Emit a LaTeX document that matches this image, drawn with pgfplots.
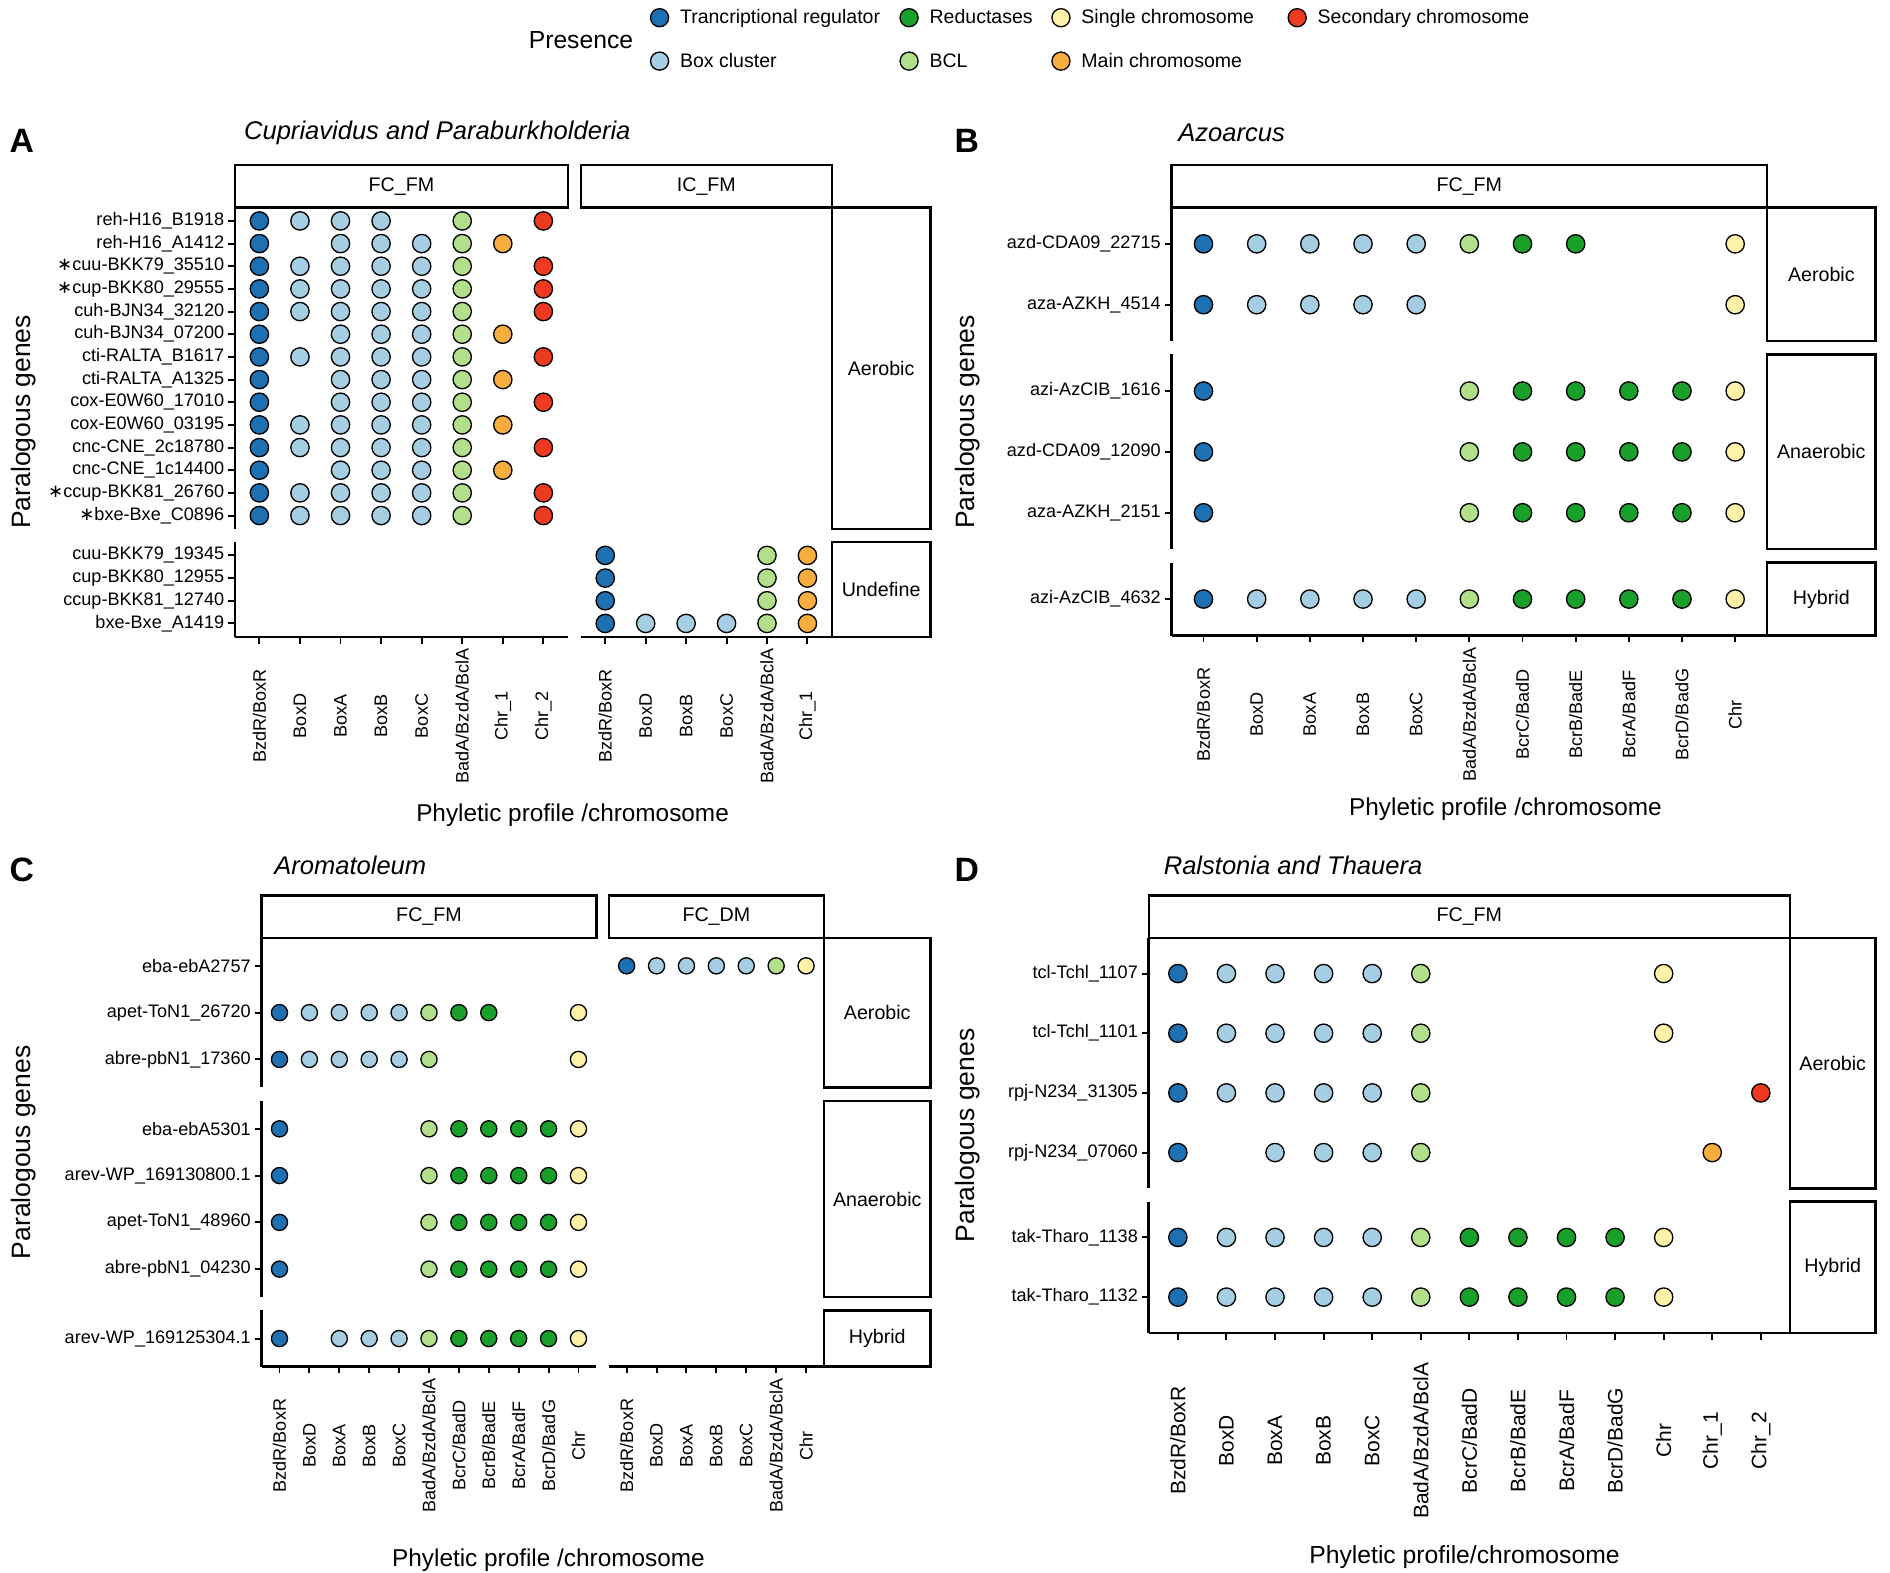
\documentclass[border=0pt]{standalone}
\usepackage{pgfplots}
\pgfplotsset{compat=1.18}
\usepackage{fontspec}
\setmainfont{Liberation Sans}
\newfontfamily\djfont{DejaVu Sans}

\definecolor{cTR}{HTML}{1D70B2}
\definecolor{cBX}{HTML}{A6CEE3}
\definecolor{cRD}{HTML}{19A02A}
\definecolor{cBL}{HTML}{B2DF8A}
\definecolor{cSC}{HTML}{FFF1A8}
\definecolor{cMC}{HTML}{F8AD3F}
\definecolor{cSD}{HTML}{EE3A21}

\newcommand{\gfont}{\fontsize{15}{17}\selectfont}
\newcommand{\tfont}{\fontsize{15}{17}\selectfont}
\newcommand{\sfont}{\fontsize{16.3}{18}\selectfont}
\newcommand{\st}{{\djfont ∗}}

\pgfplotsset{
  cell/.style={scale only axis, clip=false,
    axis line style={line width=2.2pt},
    tick style={line width=1.6pt, black},
    major tick length=5.5pt, tick align=outside,
    yticklabel style={font=\gfont},
    xticklabel style={font=\tfont, rotate=90, anchor=center},
    xticklabel shift=60pt},
  yonly/.style={axis y line*=left, axis x line=none, xtick=\empty},
  xonly/.style={axis x line*=bottom, axis y line=none, ytick=\empty},
  both/.style={axis x line*=bottom, axis y line*=left},
  dots/.style={scatter, only marks, scatter src=explicit symbolic,
    mark size=#1, mark options={line width=1.1pt},
    scatter/classes={
      tr={mark=*, draw=black, fill=cTR},
      bx={mark=*, draw=black, fill=cBX},
      rd={mark=*, draw=black, fill=cRD},
      bl={mark=*, draw=black, fill=cBL},
      sc={mark=*, draw=black, fill=cSC},
      mc={mark=*, draw=black, fill=cMC},
      sd={mark=*, draw=black, fill=cSD}}},
  dots/.default=7.6pt,
  lg/.style={only marks, mark=*, mark size=7.5pt,
    mark options={draw=black, line width=1.1pt, fill=#1}},
}

\begin{document}
\begin{tikzpicture}
\path[use as bounding box] (0pt,0pt) rectangle (1568pt,-1305pt);

% legend
\begin{axis}[hide axis, scale only axis, width=10pt, height=10pt,
  xmin=0, xmax=1, ymin=0, ymax=1,
  at={(539.5pt,-7pt)}, anchor=north west,
  legend columns=4, legend cell align=left,
  legend style={at={(0,1)}, anchor=north west, draw=none, fill=none,
    inner sep=0pt, font=\fontsize{16.2}{18}\selectfont, row sep=21pt,
    nodes={inner sep=0pt},
    /tikz/every odd column/.append style={column sep=9.5pt}}]
\addlegendimage{lg=cTR}\addlegendentry{\makebox[182.5pt][l]{Trancriptional regulator}}
\addlegendimage{lg=cRD}\addlegendentry{\makebox[101.5pt][l]{Reductases}}
\addlegendimage{lg=cSC}\addlegendentry{\makebox[171.5pt][l]{Single chromosome}}
\addlegendimage{lg=cSD}\addlegendentry{Secondary chromosome}
\addlegendimage{lg=cBX}\addlegendentry{Box cluster}
\addlegendimage{lg=cBL}\addlegendentry{BCL}
\addlegendimage{lg=cMC}\addlegendentry{Main chromosome}
\end{axis}

% ---------------- panel A ----------------
\begin{axis}[cell, yonly, at={(195pt,-172pt)}, anchor=north west,
  width=276pt, height=267pt, xmin=-0.6, xmax=7.6, ymin=-13.6, ymax=0.6,
  ytick={0,-1,...,-13},
  yticklabels={reh-H16\_B1918, reh-H16\_A1412, \st cuu-BKK79\_35510, \st cup-BKK80\_29555,
    cuh-BJN34\_32120, cuh-BJN34\_07200, cti-RALTA\_B1617, cti-RALTA\_A1325,
    cox-E0W60\_17010, cox-E0W60\_03195, cnc-CNE\_2c18780, cnc-CNE\_1c14400,
    \st ccup-BKK81\_26760, \st bxe-Bxe\_C0896}]
\addplot[dots] table[row sep=crcr, meta=c]{
x y c\\
0 0 tr\\ 1 0 bx\\ 2 0 bx\\ 3 0 bx\\ 5 0 bl\\ 7 0 sd\\
0 -1 tr\\ 2 -1 bx\\ 3 -1 bx\\ 4 -1 bx\\ 5 -1 bl\\ 6 -1 mc\\
0 -2 tr\\ 1 -2 bx\\ 2 -2 bx\\ 3 -2 bx\\ 4 -2 bx\\ 5 -2 bl\\ 7 -2 sd\\
0 -3 tr\\ 1 -3 bx\\ 2 -3 bx\\ 3 -3 bx\\ 4 -3 bx\\ 5 -3 bl\\ 7 -3 sd\\
0 -4 tr\\ 1 -4 bx\\ 2 -4 bx\\ 3 -4 bx\\ 4 -4 bx\\ 5 -4 bl\\ 7 -4 sd\\
0 -5 tr\\ 2 -5 bx\\ 3 -5 bx\\ 4 -5 bx\\ 5 -5 bl\\ 6 -5 mc\\
0 -6 tr\\ 1 -6 bx\\ 2 -6 bx\\ 3 -6 bx\\ 4 -6 bx\\ 5 -6 bl\\ 7 -6 sd\\
0 -7 tr\\ 2 -7 bx\\ 3 -7 bx\\ 4 -7 bx\\ 5 -7 bl\\ 6 -7 mc\\
0 -8 tr\\ 2 -8 bx\\ 3 -8 bx\\ 4 -8 bx\\ 5 -8 bl\\ 7 -8 sd\\
0 -9 tr\\ 1 -9 bx\\ 2 -9 bx\\ 3 -9 bx\\ 4 -9 bx\\ 5 -9 bl\\ 6 -9 mc\\
0 -10 tr\\ 1 -10 bx\\ 2 -10 bx\\ 3 -10 bx\\ 4 -10 bx\\ 5 -10 bl\\ 7 -10 sd\\
0 -11 tr\\ 2 -11 bx\\ 3 -11 bx\\ 4 -11 bx\\ 5 -11 bl\\ 6 -11 mc\\
0 -12 tr\\ 1 -12 bx\\ 2 -12 bx\\ 3 -12 bx\\ 4 -12 bx\\ 5 -12 bl\\ 7 -12 sd\\
0 -13 tr\\ 1 -13 bx\\ 2 -13 bx\\ 3 -13 bx\\ 4 -13 bx\\ 5 -13 bl\\ 7 -13 sd\\
};
\end{axis}

\begin{axis}[cell, both, at={(195pt,-449.5pt)}, anchor=north west,
  width=276pt, height=79pt, xmin=-0.6, xmax=7.6, ymin=-3.6, ymax=0.6,
  ytick={0,-1,...,-3},
  yticklabels={cuu-BKK79\_19345, cup-BKK80\_12955, ccup-BKK81\_12740, bxe-Bxe\_A1419},
  xtick={0,...,7},
  xticklabels={BzdR/BoxR, BoxD, BoxA, BoxB, BoxC, BadA/BzdA/BclA, Chr\_1, Chr\_2}]
\end{axis}

\begin{axis}[cell, xonly, at={(482pt,-449.5pt)}, anchor=north west,
  width=208pt, height=79pt, xmin=-0.6, xmax=5.6, ymin=-3.6, ymax=0.6,
  xtick={0,...,5},
  xticklabels={BzdR/BoxR, BoxD, BoxB, BoxC, BadA/BzdA/BclA, Chr\_1}]
\addplot[dots] table[row sep=crcr, meta=c]{
x y c\\
0 0 tr\\ 4 0 bl\\ 5 0 mc\\
0 -1 tr\\ 4 -1 bl\\ 5 -1 mc\\
0 -2 tr\\ 4 -2 bl\\ 5 -2 mc\\
0 -3 tr\\ 1 -3 bx\\ 2 -3 bx\\ 3 -3 bx\\ 4 -3 bl\\ 5 -3 mc\\
};
\end{axis}

% ---------------- panel B ----------------
\begin{axis}[cell, yonly, at={(972pt,-172pt)}, anchor=north west,
  width=494pt, height=111.1pt, xmin=-0.6, xmax=10.6, ymin=-1.6, ymax=0.6,
  ytick={0,-1}, yticklabels={azd-CDA09\_22715, aza-AZKH\_4514}]
\addplot[dots] table[row sep=crcr, meta=c]{
x y c\\
0 0 tr\\ 1 0 bx\\ 2 0 bx\\ 3 0 bx\\ 4 0 bx\\ 5 0 bl\\ 6 0 rd\\ 7 0 rd\\ 10 0 sc\\
0 -1 tr\\ 1 -1 bx\\ 2 -1 bx\\ 3 -1 bx\\ 4 -1 bx\\ 10 -1 sc\\
};
\end{axis}

\begin{axis}[cell, yonly, at={(972pt,-294.1pt)}, anchor=north west,
  width=494pt, height=161.6pt, xmin=-0.6, xmax=10.6, ymin=-2.6, ymax=0.6,
  ytick={0,-1,-2}, yticklabels={azi-AzCIB\_1616, azd-CDA09\_12090, aza-AZKH\_2151}]
\addplot[dots] table[row sep=crcr, meta=c]{
x y c\\
0 0 tr\\ 5 0 bl\\ 6 0 rd\\ 7 0 rd\\ 8 0 rd\\ 9 0 rd\\ 10 0 sc\\
0 -1 tr\\ 5 -1 bl\\ 6 -1 rd\\ 7 -1 rd\\ 8 -1 rd\\ 9 -1 rd\\ 10 -1 sc\\
0 -2 tr\\ 5 -2 bl\\ 6 -2 rd\\ 7 -2 rd\\ 8 -2 rd\\ 9 -2 rd\\ 10 -2 sc\\
};
\end{axis}

\begin{axis}[cell, both, at={(972pt,-466.7pt)}, anchor=north west,
  width=494pt, height=60.6pt, xmin=-0.6, xmax=10.6, ymin=-0.6, ymax=0.6,
  ytick={0}, yticklabels={azi-AzCIB\_4632},
  xtick={0,...,10},
  xticklabels={BzdR/BoxR, BoxD, BoxA, BoxB, BoxC, BadA/BzdA/BclA,
    BcrC/BadD, BcrB/BadE, BcrA/BadF, BcrD/BadG, Chr}]
\addplot[dots] table[row sep=crcr, meta=c]{
x y c\\
0 0 tr\\ 1 0 bx\\ 2 0 bx\\ 3 0 bx\\ 4 0 bx\\ 5 0 bl\\ 6 0 rd\\ 7 0 rd\\ 8 0 rd\\ 9 0 rd\\ 10 0 sc\\
};
\end{axis}

% ---------------- panel C ----------------
\begin{axis}[cell, yonly, at={(217pt,-778pt)}, anchor=north west,
  width=277.8pt, height=124.2pt, xmin=-0.6, xmax=10.6, ymin=-2.6, ymax=0.6,
  ytick={0,-1,-2}, yticklabels={eba-ebA2757, apet-ToN1\_26720, abre-pbN1\_17360}]
\addplot[dots=6.7pt] table[row sep=crcr, meta=c]{
x y c\\
0 -1 tr\\ 1 -1 bx\\ 2 -1 bx\\ 3 -1 bx\\ 4 -1 bx\\ 5 -1 bl\\ 6 -1 rd\\ 7 -1 rd\\ 10 -1 sc\\
0 -2 tr\\ 1 -2 bx\\ 2 -2 bx\\ 3 -2 bx\\ 4 -2 bx\\ 5 -2 bl\\ 10 -2 sc\\
};
\end{axis}

\begin{axis}[cell, hide axis, at={(505pt,-778pt)}, anchor=north west,
  width=178.6pt, height=124.2pt, xmin=-0.6, xmax=6.6, ymin=-2.6, ymax=0.6]
\addplot[dots=6.7pt] table[row sep=crcr, meta=c]{
x y c\\
0 0 tr\\ 1 0 bx\\ 2 0 bx\\ 3 0 bx\\ 4 0 bx\\ 5 0 bl\\ 6 0 sc\\
};
\end{axis}

\begin{axis}[cell, yonly, at={(217pt,-913.2pt)}, anchor=north west,
  width=277.8pt, height=163pt, xmin=-0.6, xmax=10.6, ymin=-3.6, ymax=0.6,
  ytick={0,-1,...,-3},
  yticklabels={eba-ebA5301, arev-WP\_169130800.1, apet-ToN1\_48960, abre-pbN1\_04230}]
\addplot[dots=6.7pt] table[row sep=crcr, meta=c]{
x y c\\
0 0 tr\\ 5 0 bl\\ 6 0 rd\\ 7 0 rd\\ 8 0 rd\\ 9 0 rd\\ 10 0 sc\\
0 -1 tr\\ 5 -1 bl\\ 6 -1 rd\\ 7 -1 rd\\ 8 -1 rd\\ 9 -1 rd\\ 10 -1 sc\\
0 -2 tr\\ 5 -2 bl\\ 6 -2 rd\\ 7 -2 rd\\ 8 -2 rd\\ 9 -2 rd\\ 10 -2 sc\\
0 -3 tr\\ 5 -3 bl\\ 6 -3 rd\\ 7 -3 rd\\ 8 -3 rd\\ 9 -3 rd\\ 10 -3 sc\\
};
\end{axis}

\begin{axis}[cell, both, at={(217pt,-1087.2pt)}, anchor=north west,
  width=277.8pt, height=46.6pt, xmin=-0.6, xmax=10.6, ymin=-0.6, ymax=0.6,
  ytick={0}, yticklabels={arev-WP\_169125304.1},
  xtick={0,...,10},
  xticklabels={BzdR/BoxR, BoxD, BoxA, BoxB, BoxC, BadA/BzdA/BclA,
    BcrC/BadD, BcrB/BadE, BcrA/BadF, BcrD/BadG, Chr}]
\addplot[dots=6.7pt] table[row sep=crcr, meta=c]{
x y c\\
0 0 tr\\ 2 0 bx\\ 3 0 bx\\ 4 0 bx\\ 5 0 bl\\ 6 0 rd\\ 7 0 rd\\ 8 0 rd\\ 9 0 rd\\ 10 0 sc\\
};
\end{axis}

\begin{axis}[cell, xonly, at={(505pt,-1087.2pt)}, anchor=north west,
  width=178.6pt, height=46.6pt, xmin=-0.6, xmax=6.6, ymin=-0.6, ymax=0.6,
  xtick={0,...,6},
  xticklabels={BzdR/BoxR, BoxD, BoxA, BoxB, BoxC, BadA/BzdA/BclA, Chr}]
\end{axis}

% ---------------- panel D ----------------
\begin{axis}[cell, yonly, at={(953pt,-778pt)}, anchor=north west,
  width=532pt, height=207.9pt, xmin=-0.6, xmax=12.6, ymin=-3.6, ymax=0.6,
  ytick={0,-1,...,-3},
  yticklabels={tcl-Tchl\_1107, tcl-Tchl\_1101, rpj-N234\_31305, rpj-N234\_07060}]
\addplot[dots] table[row sep=crcr, meta=c]{
x y c\\
0 0 tr\\ 1 0 bx\\ 2 0 bx\\ 3 0 bx\\ 4 0 bx\\ 5 0 bl\\ 10 0 sc\\
0 -1 tr\\ 1 -1 bx\\ 2 -1 bx\\ 3 -1 bx\\ 4 -1 bx\\ 5 -1 bl\\ 10 -1 sc\\
0 -2 tr\\ 1 -2 bx\\ 2 -2 bx\\ 3 -2 bx\\ 4 -2 bx\\ 5 -2 bl\\ 12 -2 sd\\
0 -3 tr\\ 2 -3 bx\\ 3 -3 bx\\ 4 -3 bx\\ 5 -3 bl\\ 11 -3 mc\\
};
\end{axis}

\begin{axis}[cell, both, at={(953pt,-996.9pt)}, anchor=north west,
  width=532pt, height=108.9pt, xmin=-0.6, xmax=12.6, ymin=-1.6, ymax=0.6,
  ytick={0,-1}, yticklabels={tak-Tharo\_1138, tak-Tharo\_1132},
  xtick={0,...,12},
  xticklabels={BzdR/BoxR, BoxD, BoxA, BoxB, BoxC, BadA/BzdA/BclA,
    BcrC/BadD, BcrB/BadE, BcrA/BadF, BcrD/BadG, Chr, Chr\_1, Chr\_2},
  xticklabel style={font=\fontsize{17.4}{19}\selectfont},
  xticklabel shift=84pt]
\addplot[dots] table[row sep=crcr, meta=c]{
x y c\\
0 0 tr\\ 1 0 bx\\ 2 0 bx\\ 3 0 bx\\ 4 0 bx\\ 5 0 bl\\ 6 0 rd\\ 7 0 rd\\ 8 0 rd\\ 9 0 rd\\ 10 0 sc\\
0 -1 tr\\ 1 -1 bx\\ 2 -1 bx\\ 3 -1 bx\\ 4 -1 bx\\ 5 -1 bl\\ 6 -1 rd\\ 7 -1 rd\\ 8 -1 rd\\ 9 -1 rd\\ 10 -1 sc\\
};
\end{axis}

% ---------------- strips, titles, labels ----------------
\begin{scope}[x=1pt, y=-1pt, strip/.style={draw, line width=2pt, fill=white},
  st/.style={font=\sfont}]
\node[font=\fontsize{20.5}{22}\selectfont] at (482,33) {Presence};

% A
\node[font=\fontsize{28}{30}\selectfont\bfseries] at (18,117) {A};
\node[anchor=west, font=\fontsize{21.2}{23}\selectfont\itshape] at (199,110) {Cupriavidus and Paraburkholderia};
\draw[strip] (195,137) rectangle (471,172); \node[st] at (333,154.5) {FC\_FM};
\draw[strip] (482,137) rectangle (690,172); \node[st] at (586,154.5) {IC\_FM};
\draw[strip] (690,172) rectangle (772,439); \node[st] at (731,305.5) {Aerobic};
\draw[strip] (690,449.5) rectangle (772,528.5); \node[st] at (731,489) {Undefine};
\node[rotate=90, font=\fontsize{22}{24}\selectfont] at (20,350) {Paralogous genes};
\node[font=\fontsize{20.2}{22}\selectfont] at (475,676) {Phyletic profile /chromosome};

% B
\node[font=\fontsize{28}{30}\selectfont\bfseries] at (802,117) {B};
\node[anchor=west, font=\fontsize{21.2}{23}\selectfont\itshape] at (974,110) {Azoarcus};
\draw[strip] (972,137) rectangle (1466,172); \node[st] at (1219,154.5) {FC\_FM};
\draw[strip] (1466,172) rectangle (1556,283.1); \node[st] at (1511,227.5) {Aerobic};
\draw[strip] (1466,294.1) rectangle (1556,455.7); \node[st] at (1511,374.9) {Anaerobic};
\draw[strip] (1466,466.7) rectangle (1556,527.3); \node[st] at (1511,497) {Hybrid};
\node[rotate=90, font=\fontsize{22}{24}\selectfont] at (803,350) {Paralogous genes};
\node[font=\fontsize{20.2}{22}\selectfont] at (1249,671) {Phyletic profile /chromosome};

% C
\node[font=\fontsize{28}{30}\selectfont\bfseries] at (18,722) {C};
\node[anchor=west, font=\fontsize{21.2}{23}\selectfont\itshape] at (224,718) {Aromatoleum};
\draw[strip] (217,743) rectangle (494.8,778); \node[st] at (355.9,760.5) {FC\_FM};
\draw[strip] (505,743) rectangle (683.6,778); \node[st] at (594.3,760.5) {FC\_DM};
\draw[strip] (683.6,778) rectangle (772,902.2); \node[st] at (727.8,840.1) {Aerobic};
\draw[strip] (683.6,913.2) rectangle (772,1076.2); \node[st] at (727.8,994.7) {Anaerobic};
\draw[strip] (683.6,1087.2) rectangle (772,1133.8); \node[st] at (727.8,1110.5) {Hybrid};
\node[rotate=90, font=\fontsize{22}{24}\selectfont] at (20,956) {Paralogous genes};
\node[font=\fontsize{20.2}{22}\selectfont] at (455,1294) {Phyletic profile /chromosome};

% D
\node[font=\fontsize{28}{30}\selectfont\bfseries] at (802,722) {D};
\node[anchor=west, font=\fontsize{21.2}{23}\selectfont\itshape] at (962,718) {Ralstonia and Thauera};
\draw[strip] (953,743) rectangle (1485,778); \node[st] at (1219,760.5) {FC\_FM};
\draw[strip] (1485,778) rectangle (1556,985.9); \node[st] at (1520.5,882) {Aerobic};
\draw[strip] (1485,996.9) rectangle (1556,1105.8); \node[st] at (1520.5,1051.4) {Hybrid};
\node[rotate=90, font=\fontsize{22}{24}\selectfont] at (803,942) {Paralogous genes};
\node[font=\fontsize{20.5}{22}\selectfont] at (1215,1292) {Phyletic profile/chromosome};
\end{scope}
\end{tikzpicture}
\end{document}
